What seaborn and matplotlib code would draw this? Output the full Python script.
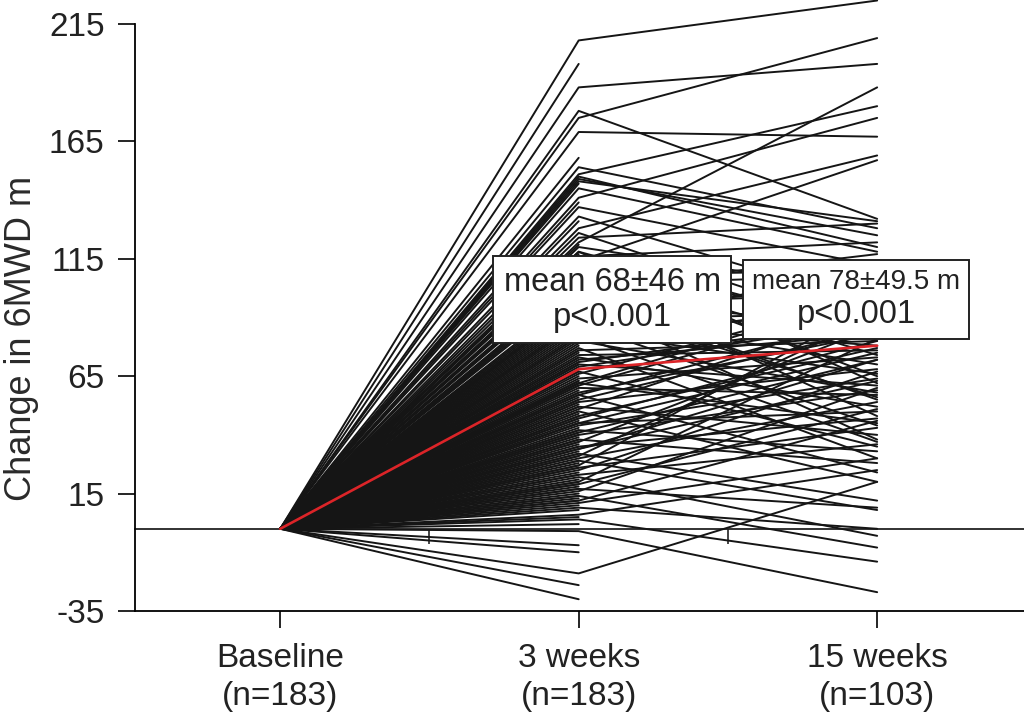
import numpy as np
import pandas as pd
import matplotlib
matplotlib.use("Agg")
import matplotlib.pyplot as plt
from matplotlib.offsetbox import TextArea, VPacker, AnnotationBbox
import seaborn as sns

# ---------------- data ----------------
time_labels = ["Baseline\n(n=183)", "3 weeks\n(n=183)", "15 weeks\n(n=103)"]
y_ticks = [-35, 15, 65, 115, 165, 215]

# change in 6MWD at 3 weeks for patients who also have a 15-week value (103)
week3_followed = [208, 188, 178, 175, 169, 154, 151, 150, 149, 148,
                  145, 141, 137, 133, 128, 126, 124, 122, 120, 118,
                  116, 114, 112, 110, 108, 106, 104, 102, 100, 98,
                  96, 95, 93, 91, 89, 87, 85, 84, 82, 80,
                  79, 77, 76, 74, 73, 71, 70, 69, 67, 66,
                  64, 62, 61, 60, 58, 57, 55, 54, 52, 51,
                  50, 48, 47, 45, 44, 42, 41, 40, 38, 37,
                  35, 34, 32, 31, 30, 29, 27, 26, 25, 23,
                  22, 20, 19, 17, 16, 14, 12, 11, 9, 6,
                  4, -1, -19, 62, 88, 113, 96, 72, 57, 45,
                  118, 34, 82]
# change in 6MWD at 15 weeks for the same 103 patients
week15 = [225, 198, 132, 209, 167, 128, 180, 120, 125, 131,
          118, 175, 112, 95, 159, 84, 130, 188, 101, 62,
          122, 157, 74, 90, 110, 48, 108, 117, 55, 86,
          100, 38, 104, 70, 92, 44, 112, 66, 94, 58,
          97, 30, 80, 76, 52, 89, 61, 88, 35, 99,
          73, 45, 96, 57, 83, 24, 85, 68, 40, 93,
          20, 77, 80, 50, 64, 33, 72, 59, 28, 86,
          47, 72, 12, 91, 54, 8, 96, 43, 67, 36,
          -3, 81, 51, 9, 60, -8, 46, 30, 0, 25,
          -14, -27, 20, 100, 78, 65, 56, 83, 90, 75,
          84, 63, 37]
# change at 3 weeks for patients without a 15-week value (80)
week3_only = [198, 158, 147, 139, 131, 121, 117, 109, 103, 99,
              94, 92, 90, 86, 83, 81, 78, 75, 73, 71,
              68, 67, 65, 63, 63, 61, 59, 58, 56, 55,
              53, 52, 50, 49, 48, 46, 45, 43, 42, 40,
              39, 38, 36, 35, 33, 32, 31, 29, 28, 27,
              26, 24, 23, 21, 20, 19, 18, 17, 15, 14,
              13, 12, 10, 8, 5, 2, -7, -10, -24, -30,
              105, 97, 88, 76, 70, 62, 54, 47, 41, 37]
baseline_change = 0
mean_change = [0, 68, 78]
box_lines = [("mean 68\u00b146 m", "p<0.001"), ("mean 78\u00b149.5 m", "p<0.001")]

# ---------------- long table ----------------
rows = []
pid = 0
for w3, w15 in zip(week3_followed, week15):
    for t, v in zip([0, 1, 2], [baseline_change, w3, w15]):
        rows.append((pid, t, v))
    pid += 1
for w3 in week3_only:
    for t, v in zip([0, 1], [baseline_change, w3]):
        rows.append((pid, t, v))
    pid += 1
df = pd.DataFrame(rows, columns=["patient", "time", "change"])
mean_df = pd.DataFrame({"time": [0, 1, 2], "change": mean_change})

# ---------------- plot ----------------
sns.set_style("ticks")
plt.rcParams["font.family"] = ["Liberation Sans", "DejaVu Sans"]

fig = plt.figure(figsize=(10.24, 7.14), dpi=100)
ax = fig.add_axes([0.132, 0.1443, 0.868, 0.8221])

sns.lineplot(data=df, x="time", y="change", units="patient", estimator=None,
             color="#151515", linewidth=1.4, legend=False, ax=ax, clip_on=False)
sns.lineplot(data=mean_df, x="time", y="change", color="#dc2428",
             linewidth=1.9, legend=False, ax=ax, clip_on=False, zorder=5)

ax.set_xlim(-0.486, 2.492)
ax.set_ylim(-35, 215)
ax.set_yticks(y_ticks)
ax.set_yticklabels([str(v) for v in y_ticks])
ax.set_xticks([0, 1, 2])
ax.set_xticklabels(time_labels, linespacing=1.3)
ax.set_xlabel("")
ax.set_ylabel("Change in 6MWD m", fontsize=26, color="#2a2a2a")
ax.yaxis.set_label_coords(-0.108, 0.465)
ax.tick_params(axis="both", direction="out", length=12, width=1.2,
               color="black", labelsize=24, labelcolor="#222222", pad=10)
ax.tick_params(axis="x", pad=11)
for s in ["top", "right"]:
    ax.spines[s].set_visible(False)
for s in ["left", "bottom"]:
    ax.spines[s].set_linewidth(1.3)
    ax.spines[s].set_color("black")

# zero reference line with small mid ticks
try:
    sec = ax.secondary_xaxis(0, transform=ax.transData)
except TypeError:
    sec = ax.secondary_xaxis(35 / 250)
sec.set_xticks([0.5, 1.5])
sec.set_xticklabels(["", ""])
sec.tick_params(direction="out", length=11, width=1.2, color="#222222")
sec.spines["bottom"].set_linewidth(1.3)
sec.spines["bottom"].set_color("#222222")


def stat_box(lines, pos, sizes, pad):
    children = [TextArea(t, textprops=dict(fontsize=s, color="#222222"))
                for t, s in zip(lines, sizes)]
    pack = VPacker(children=children, align="center", pad=pad, sep=3)
    ab = AnnotationBbox(pack, pos, xycoords="data", box_alignment=(0.5, 0.5),
                        frameon=True, pad=0,
                        bboxprops=dict(boxstyle="square,pad=0", facecolor="white",
                                       edgecolor="#222222", linewidth=1.4))
    ab.set_zorder(10)
    ax.add_artist(ab)


stat_box(box_lines[0], (1.112, 97.5), (23.5, 23.5), 7.5)
stat_box(box_lines[1], (1.93, 97.5), (20, 23.5), 6.5)

fig.savefig("out.png", dpi=100)
